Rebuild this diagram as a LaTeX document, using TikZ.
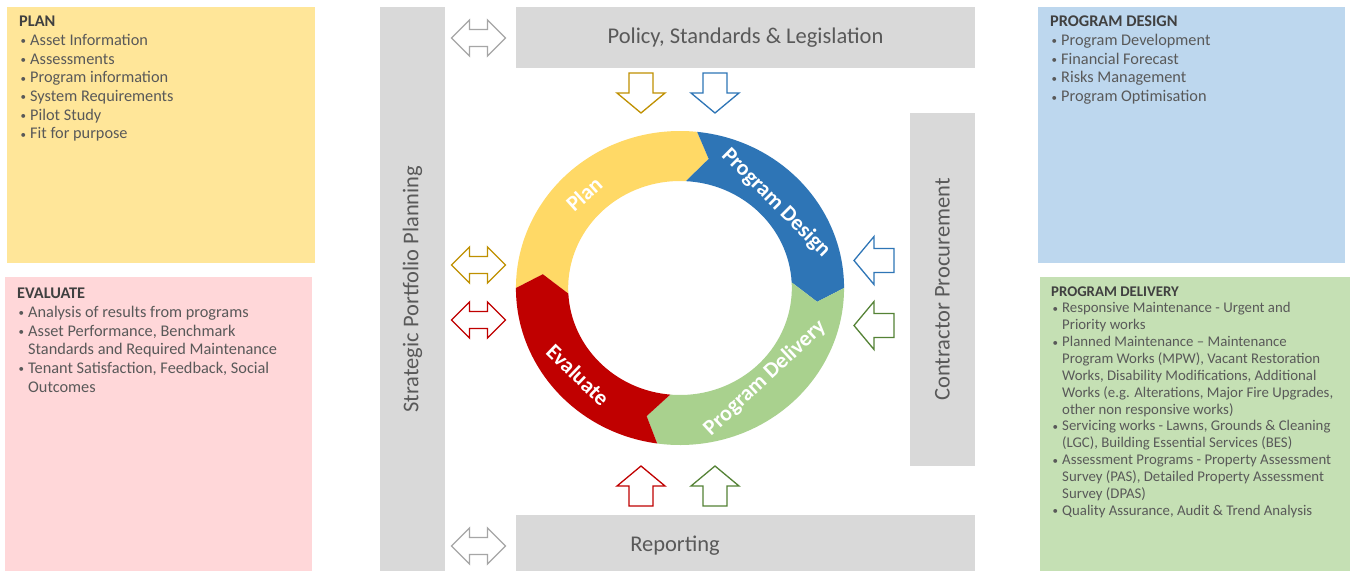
\documentclass[tikz,border=0pt]{standalone}
\usepackage{fontspec}
\setmainfont{Carlito}
\definecolor{barg}{HTML}{D9D9D9}
\definecolor{txtg}{HTML}{595959}
\definecolor{hdrg}{HTML}{404040}
\definecolor{plany}{HTML}{FFE699}
\definecolor{evalp}{HTML}{FFD7D9}
\definecolor{desb}{HTML}{BDD7EE}
\definecolor{delg}{HTML}{C5E0B4}
\definecolor{ringy}{HTML}{FFD966}
\definecolor{ringb}{HTML}{2E75B6}
\definecolor{ringg}{HTML}{A9D18E}
\definecolor{ringr}{HTML}{C00000}
\definecolor{arry}{HTML}{BF9000}
\definecolor{arrb}{HTML}{2E75B6}
\definecolor{arrr}{HTML}{C00000}
\definecolor{arrg}{HTML}{548235}
\definecolor{arrgray}{HTML}{A6A6A6}
\newcommand{\bitem}[1]{\makebox[11pt][l]{\hspace{1.5pt}\raisebox{0.6pt}{\fontsize{11}{11}\selectfont •}}#1}
\newcommand{\bcont}[1]{\hspace*{11pt}#1}
\newcommand{\hdr}[1]{{\color{hdrg}\bfseries #1}}
\tikzset{
  panel/.style={inner sep=0pt, anchor=north west, draw=none},
  bar/.style={fill=barg, inner sep=0pt, text=txtg, font=\fontsize{22.5}{26}\selectfont},
  bartext/.style={text=txtg, font=\fontsize{22.5}{26}\selectfont, inner sep=0pt},
  listtext/.style={anchor=north west, inner sep=0pt, align=left, text=txtg, font=\fontsize{16.3}{18.7}\selectfont},
  smalllist/.style={anchor=north west, inner sep=0pt, align=left, text=txtg, font=\fontsize{14.8}{16.85}\selectfont},
  ringtext/.style={text=white, font=\fontsize{22}{26}\selectfont\bfseries, inner sep=0pt},
  pics/dblarr/.style={code={\draw[#1, line width=1.3pt, fill=white, line join=miter]
     (-27,0) -- (-9,-18) -- (-9,-8.5) -- (9,-8.5) -- (9,-18) -- (27,0) -- (9,18) -- (9,8.5) -- (-9,8.5) -- (-9,18) -- cycle;}},
  pics/sarr/.style={code={\draw[#1, line width=1.3pt, fill=white, line join=miter]
     (-12,-20) -- (12,-20) -- (12,0) -- (24,0) -- (0,20) -- (-24,0) -- (-12,0) -- cycle;}},
}
\begin{document}
\begin{tikzpicture}[x=1pt, y=-1pt]
\useasboundingbox (0,0) rectangle (1350,571);
\fill[white] (0,0) rectangle (1350,571);

% side panels
\node[panel, fill=plany, minimum width=308pt, minimum height=256pt] (planbox) at (7,7) {};
\node[panel, fill=evalp, minimum width=307pt, minimum height=294pt] (evalbox) at (5,277) {};
\node[panel, fill=desb, minimum width=307pt, minimum height=256pt] (desbox) at (1038,7) {};
\node[panel, fill=delg, minimum width=310pt, minimum height=294pt] (delbox) at (1040,277) {};

\node[listtext] (plantext) at (19,16) {\hdr{PLAN}\\
\bitem{Asset Information}\\
\bitem{Assessments}\\
\bitem{Program information}\\
\bitem{System Requirements}\\
\bitem{Pilot Study}\\
\bitem{Fit for purpose}};

\node[listtext] (evaltext) at (17,288) {\hdr{EVALUATE}\\
\bitem{Analysis of results from programs}\\
\bitem{Asset Performance, Benchmark}\\
\bcont{Standards and Required Maintenance}\\
\bitem{Tenant Satisfaction, Feedback, Social}\\
\bcont{Outcomes}};

\node[listtext] (destext) at (1050,16) {\hdr{PROGRAM DESIGN}\\
\bitem{Program Development}\\
\bitem{Financial Forecast}\\
\bitem{Risks Management}\\
\bitem{Program Optimisation}};

\node[smalllist] (deltext) at (1051,286.2) {\hdr{PROGRAM DELIVERY}\\
\bitem{Responsive Maintenance - Urgent and}\\
\bcont{Priority works}\\
\bitem{Planned Maintenance – Maintenance}\\
\bcont{Program Works (MPW), Vacant Restoration}\\
\bcont{Works, Disability Modifications, Additional}\\
\bcont{Works (e.g. Alterations, Major Fire Upgrades,}\\
\bcont{other non responsive works)}\\
\bitem{Servicing works - Lawns, Grounds \& Cleaning}\\
\bcont{(LGC), Building Essential Services (BES)}\\
\bitem{Assessment Programs - Property Assessment}\\
\bcont{Survey (PAS), Detailed Property Assessment}\\
\bcont{Survey (DPAS)}\\
\bitem{Quality Assurance, Audit \& Trend Analysis}};

% gray bars
\node[bar, rotate=90, minimum width=564pt, minimum height=65pt] (spp) at (412.5,289) {Strategic Portfolio Planning};
\node[bar, rotate=90, minimum width=353pt, minimum height=65pt] (cp) at (942.5,289.5) {Contractor Procurement};
\node[bar, minimum width=459pt, minimum height=61pt] (psl) at (745.5,37.5) {Policy, Standards \& Legislation};
\node[bar, minimum width=459pt, minimum height=56pt] (rep) at (745.5,543) {};
\node[bartext] (reptext) at (675,546) {Reporting};

% outline arrows
\pic at (478.5,38) {dblarr=arrgray};
\pic at (478.5,546) {dblarr=arrgray};
\pic at (478.5,265) {dblarr=arry};
\pic at (478.5,320) {dblarr=arrr};
\pic at (641,93) {sarr=arry};
\pic at (715,93) {sarr=arrb};
\pic[rotate=180] at (641,486) {sarr=arrr};
\pic[rotate=180] at (715,486) {sarr=arrg};
\pic[rotate=-90] at (874,260.5) {sarr=arrb};
\pic[rotate=-90] at (874,325.5) {sarr=arrg};

% cycle ring
\begin{scope}[shift={(680,288)}, x=1.045pt, y=1pt]
  \fill[ringy] (180:157) arc[start angle=180, end angle=84, radius=157]
     -- (78:132) -- (87:107) arc[start angle=87, end angle=183, radius=107]
     -- (174:132) -- cycle;
  \fill[ringb] (84:157) arc[start angle=84, end angle=0, radius=157]
     -- (-6:132) -- (3:107) arc[start angle=3, end angle=87, radius=107]
     -- (78:132) -- cycle;
  \fill[ringg] (0:157) arc[start angle=0, end angle=-98, radius=157]
     -- (-104:132) -- (-95:107) arc[start angle=-95, end angle=3, radius=107]
     -- (-6:132) -- cycle;
  \fill[ringr] (262:157) arc[start angle=262, end angle=180, radius=157]
     -- (174:132) -- (183:107) arc[start angle=183, end angle=265, radius=107]
     -- (256:132) -- cycle;
\end{scope}
\node[ringtext, rotate=42] (tplan) at (584,194) {Plan};
\node[ringtext, rotate=-45] (tdes) at (776,203) {Program Design};
\node[ringtext, rotate=43] (tdel) at (765,378) {Program Delivery};
\node[ringtext, rotate=-44] (teval) at (578,375) {Evaluate};
\end{tikzpicture}
\end{document}
